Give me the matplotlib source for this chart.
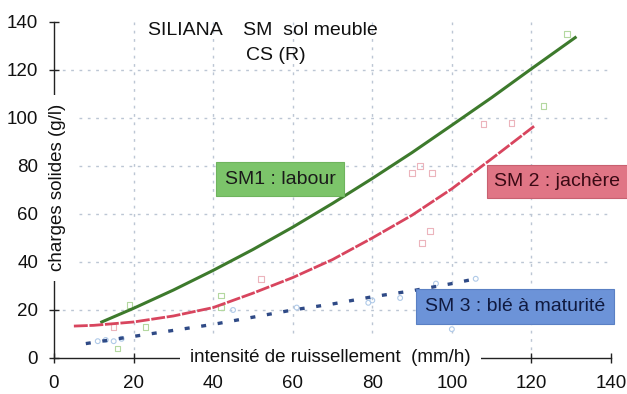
import matplotlib
matplotlib.use("Agg")
import matplotlib.pyplot as plt

plt.rcParams['font.family'] = ['Liberation Sans', 'DejaVu Sans']

# Trend curves
sm1_x = [12, 20, 30, 40, 50, 60, 70, 80, 90, 100, 110, 120, 131]
sm1_y = [15.0, 20.7, 28.3, 36.5, 45.2, 54.5, 64.4, 74.8, 85.6, 97.0, 108.5, 120.5, 133.5]

sm2_x = [5, 10, 20, 30, 40, 50, 60, 70, 80, 90, 100, 110, 121]
sm2_y = [13.3, 13.6, 15.0, 17.5, 21.0, 27.0, 33.5, 41.0, 50.0, 59.5, 70.5, 83.0, 97.0]

sm3_x = [8, 20, 30, 40, 50, 60, 70, 80, 90, 100, 106]
sm3_y = [6.0, 9.0, 11.5, 14.0, 17.0, 20.0, 22.5, 25.5, 28.0, 31.0, 33.0]

# Faint observation markers
obs1_x = [19, 23, 16, 42, 42, 129, 123]
obs1_y = [22, 13, 4, 26, 21, 135, 105]
obs2_x = [15, 52, 94.5, 92.5, 95, 92, 90, 108, 115]
obs2_y = [13, 33, 53, 48, 77, 80, 77, 97.5, 98]
obs3_x = [11, 13, 15, 17, 45, 61, 79, 80, 87, 96, 106, 100]
obs3_y = [7, 7.5, 7, 8, 20, 21, 23, 24, 25, 31, 33, 12]

x_ticks = [0, 20, 40, 60, 80, 100, 120, 140]
y_ticks = [0, 20, 40, 60, 80, 100, 120, 140]

title1 = "SILIANA    SM  sol meuble"
title2 = "CS (R)"
xlabel = "intensité de ruissellement  (mm/h)"
ylabel = "charges solides (g/l)"
lab1 = "SM1 : labour"
lab2 = "SM 2 : jachère"
lab3 = "SM 3 : blé à maturité"

fig = plt.figure(figsize=(6.27, 3.94), dpi=100)
ax = fig.add_axes([0.0861, 0.0914, 0.8884, 0.8528])
ax.set_xlim(0, 140)
ax.set_ylim(0, 140)

for s in ['top', 'right']:
    ax.spines[s].set_visible(False)
for s in ['left', 'bottom']:
    ax.spines[s].set_color('#222222')
    ax.spines[s].set_linewidth(1.0)

ax.set_xticks(x_ticks)
ax.set_yticks(y_ticks)
ax.tick_params(direction='inout', length=7, width=1, colors='#222222',
               labelsize=13.5, labelcolor='#111111')
ax.tick_params(axis='x', pad=9)
ax.tick_params(axis='y', pad=8)
# tick marks hidden behind the axis labels
for t in ax.xaxis.get_major_ticks()[2:6]:
    t.tick1line.set_visible(False)
for t in ax.yaxis.get_major_ticks()[2:6]:
    t.tick1line.set_visible(False)
ax.xaxis.set_zorder(6)
ax.yaxis.set_zorder(6)

# dotted grid
for v in x_ticks[1:-1]:
    ax.axvline(v, color='#bcc6d4', lw=1.0, ls=(0, (2, 4)), zorder=0.5)
for v in y_ticks[1:-1]:
    ax.axhline(v, color='#bcc6d4', lw=1.0, ls=(0, (2, 4)), zorder=0.5)

# observations
ax.scatter(obs1_x, obs1_y, marker='s', s=16, facecolors='none',
           edgecolors='#b4d8a0', linewidths=0.8, zorder=2)
ax.scatter(obs2_x, obs2_y, marker='s', s=16, facecolors='none',
           edgecolors='#ecb4bc', linewidths=0.8, zorder=2)
ax.scatter(obs3_x, obs3_y, marker='o', s=12, facecolors='none',
           edgecolors='#b0cae8', linewidths=0.8, zorder=2)

# trend curves
ax.plot(sm1_x, sm1_y, color='#3d7a2c', lw=2.2, zorder=3)
ax.plot(sm2_x, sm2_y, color='#d8455e', lw=2.0, ls=(0, (5, 0.6)), zorder=3)
ax.plot(sm3_x, sm3_y, color='#2f4a86', lw=2.4, ls=(0, (1.5, 3.5)), zorder=3)

# titles
ax.text(52.6, 136.5, title1, ha='center', va='center', fontsize=14, color='#111111')
ax.text(55.8, 126, title2, ha='center', va='center', fontsize=14, color='#111111')

# axis labels over the axis lines (white background hides spine segments)
ax.text(1.0, 71, ylabel, rotation=90, ha='center', va='center', fontsize=13.5,
        color='#111111', zorder=5,
        bbox=dict(boxstyle='square,pad=0.5', fc='white', ec='none'))
ax.text(69.5, 0, xlabel, ha='center', va='center', fontsize=13.5,
        color='#111111', zorder=5,
        bbox=dict(boxstyle='square,pad=0.55', fc='white', ec='none'))

# series labels
ax.text(56.8, 74.5, lab1, ha='center', va='center', fontsize=14, color='#1a1a1a',
        zorder=7, bbox=dict(boxstyle='square,pad=0.45', fc='#7cc46a', ec='#6fb45e', lw=0.8))
ax.text(126.5, 73.5, lab2, ha='center', va='center', fontsize=14, color='#3a0a14',
        zorder=7, clip_on=False,
        bbox=dict(boxstyle='square,pad=0.4', fc='#e07585', ec='#c86070', lw=0.8))
ax.text(115.8, 21.5, lab3, ha='center', va='center', fontsize=14, color='#101a40',
        zorder=7, clip_on=False,
        bbox=dict(boxstyle='square,pad=0.45', fc='#6c93d8', ec='#5a80c4', lw=0.8))

fig.savefig("out.png", dpi=100)
